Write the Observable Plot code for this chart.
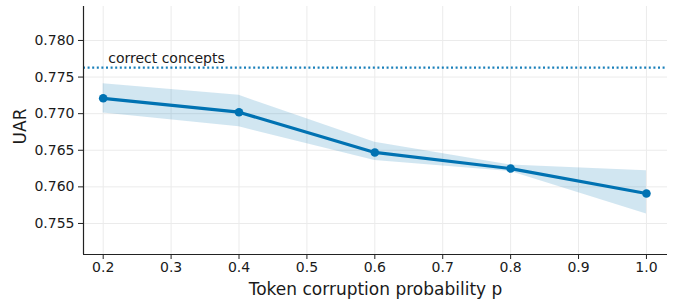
<!DOCTYPE html>
<html>
<head>
<meta charset="utf-8">
<script src="https://cdn.jsdelivr.net/npm/d3@7"></script>
<script src="https://cdn.jsdelivr.net/npm/@observablehq/plot@0.6"></script>
<style>
  html, body { margin: 0; padding: 0; background: #fff; }
  #chart svg { display: block; }
</style>
</head>
<body>
<div id="chart"></div>
<script>
const pValues = [0.2, 0.4, 0.6, 0.8, 1.0];
const uarMean = [0.7721, 0.7702, 0.7647, 0.7625, 0.7591];
const uarLow  = [0.7701, 0.7682, 0.7636, 0.7621, 0.7563];
const uarHigh = [0.7741, 0.7725, 0.7661, 0.7630, 0.7622];
const correctConcepts = 0.7763;
const correctLabel = "correct concepts";
const xTicks = [0.2, 0.3, 0.4, 0.5, 0.6, 0.7, 0.8, 0.9, 1.0];
const yTicks = [0.755, 0.760, 0.765, 0.770, 0.775, 0.780];
const xLabel = "Token corruption probability p";
const yLabel = "UAR";

const rows = pValues.map((p, i) => ({p, mean: uarMean[i], lo: uarLow[i], hi: uarHigh[i]}));
const xDomain = [0.171, 1.031];
const yDomain = [0.75076, 0.78464];
const blue = "#0072B2";
const gridColor = "#ebebeb";

const chart = Plot.plot({
  width: 677,
  height: 301,
  marginLeft: 83,
  marginRight: 10,
  marginTop: 6,
  marginBottom: 47,
  style: {fontFamily: "DejaVu Sans, sans-serif", fontSize: "14px", color: "#1a1a1a", background: "#fff"},
  x: {domain: xDomain, label: null},
  y: {domain: yDomain, label: null},
  marks: [
    Plot.gridX(xTicks, {stroke: gridColor, strokeOpacity: 1}),
    Plot.gridY(yTicks, {stroke: gridColor, strokeOpacity: 1}),
    Plot.areaY(rows, {x: "p", y1: "lo", y2: "hi", fill: blue, fillOpacity: 0.18}),
    Plot.ruleY([correctConcepts], {stroke: blue, strokeWidth: 2.2, strokeDasharray: "2,2.6", strokeOpacity: 0.9}),
    Plot.text([correctLabel], {x: pValues[0], y: correctConcepts, text: d => d, textAnchor: "start", dx: 5, dy: -9, fontSize: 14, fill: "#1a1a1a"}),
    Plot.lineY(rows, {x: "p", y: "mean", stroke: blue, strokeWidth: 3.2}),
    Plot.dot(rows, {x: "p", y: "mean", r: 4.3, fill: blue, stroke: "none"}),
    Plot.axisX({ticks: xTicks, tickFormat: d3.format(".1f"), tickSize: 5, tickPadding: 3, label: null, stroke: "#222", fontSize: 14}),
    Plot.axisY({ticks: yTicks, tickFormat: d3.format(".3f"), tickSize: 5, tickPadding: 4, label: null, stroke: "#222", fontSize: 14}),
    Plot.ruleY([yDomain[0]], {stroke: "#222", strokeWidth: 1.2}),
    Plot.ruleX([xDomain[0]], {stroke: "#222", strokeWidth: 1.2}),
    Plot.text([yLabel], {frameAnchor: "left", rotate: -90, dx: -63, dy: -4, textAnchor: "middle", lineAnchor: "middle", fontSize: 17, fill: "#1a1a1a", text: d => d}),
    Plot.text([xLabel], {frameAnchor: "bottom", dy: 35, textAnchor: "middle", lineAnchor: "middle", fontSize: 17, fill: "#1a1a1a", text: d => d})
  ]
});
document.getElementById("chart").appendChild(chart);
</script>
</body>
</html>
